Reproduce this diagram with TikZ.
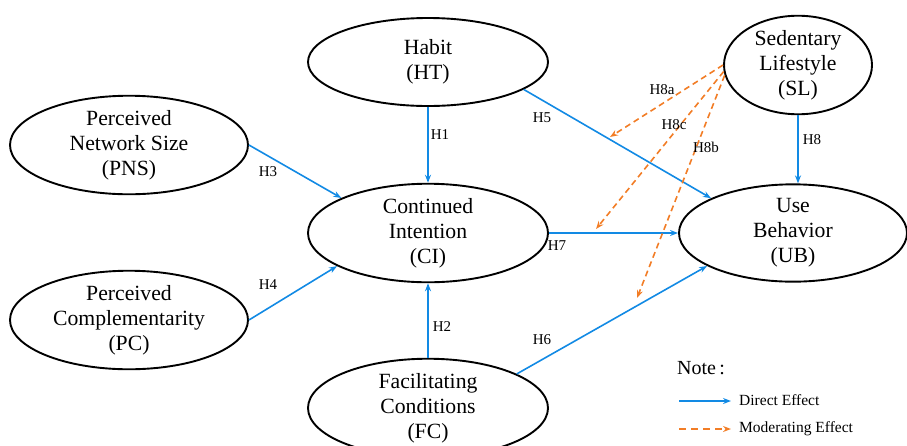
\documentclass[tikz,border=0pt]{standalone}
\usepackage{fontspec}
\setmainfont{Liberation Serif}
\usetikzlibrary{shapes.geometric,arrows.meta}
\definecolor{dirblue}{RGB}{18,138,228}
\definecolor{modorange}{RGB}{242,125,38}
\tikzset{
  construct/.style={ellipse, draw=black, line width=1.9pt, inner sep=0pt,
    minimum width=240pt, minimum height=88pt, align=center,
    font=\fontsize{21.7}{25}\selectfont},
  direct/.style={draw=dirblue, line width=1.6pt, -{Stealth[length=8pt,width=6pt]}},
  moder/.style={draw=modorange, line width=1.6pt, dash pattern=on 6pt off 4pt, -{Stealth[length=8pt,width=6pt]}},
  hlab/.style={font=\fontsize{15}{17}\selectfont, inner sep=1pt},
}
\begin{document}
\begin{tikzpicture}[x=1pt,y=-1pt]
\useasboundingbox (0,0) rectangle (907,445);
% constructs
\node[construct] (ht) at (428,62) {Habit\\(HT)};
\node[construct, minimum width=148pt, minimum height=86pt] (sl) at (798,65) {Sedentary\\Lifestyle\\(SL)};
\node[construct, minimum width=238pt, minimum height=86pt] (pns) at (129,145) {Perceived\\Network Size\\(PNS)};
\node[construct, minimum width=238pt, minimum height=86pt] (pc) at (129,320) {Perceived\\Complementarity\\(PC)};
\node[construct] (ci) at (428,233) {Continued\\Intention\\(CI)};
\node[construct, minimum width=228pt] (ub) at (793,233) {Use\\Behavior\\(UB)};
\node[construct] (fc) at (428,408) {Facilitating\\Conditions\\(FC)};
% direct effects
\draw[direct] (ht.south) -- (ci.north);
\draw[direct] (fc.north) -- (ci.south);
\draw[direct] (pns.east) -- (ci.158);
\draw[direct] (pc.east) -- (ci.200);
\draw[direct] (ht.-16) -- (ub.157);
\draw[direct] (fc.21) -- (ub.201);
\draw[direct] (ci.east) -- (ub.west);
\draw[direct] (sl.south) -- (sl.south |- ub.north);
% moderating effects
\coordinate (m8a) at (610,137);
\coordinate (m8c) at (596,229);
\coordinate (m8b) at (637,298);
\draw[moder] (sl.180) -- (m8a);
\draw[moder] (sl.185) -- (m8c);
\draw[moder] (sl.188) -- (m8b);
% labels
\node[hlab] (l1) at (440,135) {H1};
\node[hlab] (l2) at (442,327) {H2};
\node[hlab] (l3) at (268,172) {H3};
\node[hlab] (l4) at (268,285) {H4};
\node[hlab] (l5) at (542,118) {H5};
\node[hlab] (l6) at (542,340) {H6};
\node[hlab] (l7) at (557,246) {H7};
\node[hlab] (l8) at (812,140) {H8};
\node[hlab] (l8a) at (662,90) {H8a};
\node[hlab] (l8c) at (674,125) {H8c};
\node[hlab] (l8b) at (706,147) {H8b};
% legend
\node[anchor=west, inner sep=0pt, font=\fontsize{20}{22}\selectfont] (note) at (677,368) {Note\,:};
\coordinate (da) at (679,401);
\coordinate (db) at (731,401);
\coordinate (ma) at (679,429);
\coordinate (mb) at (731,429);
\draw[direct] (da) -- (db);
\draw[moder, dash pattern=on 7pt off 5pt] (ma) -- (mb);
\node[anchor=west, inner sep=0pt, font=\fontsize{15.5}{17}\selectfont] (dtxt) at (739,400) {Direct Effect};
\node[anchor=west, inner sep=0pt, font=\fontsize{15.5}{17}\selectfont] (mtxt) at (739,429) {Moderating Effect};
\end{tikzpicture}
\end{document}
